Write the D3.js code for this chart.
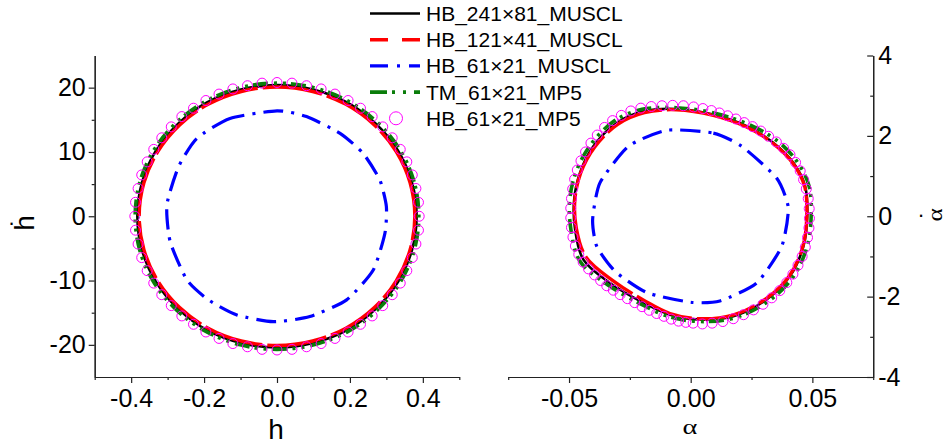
<!DOCTYPE html>
<html>
<head>
<meta charset="utf-8">
<script src="https://cdn.jsdelivr.net/npm/d3@7/dist/d3.min.js"></script>
<style>
  html, body { margin: 0; padding: 0; background: #fff; }
  svg { display: block; }
  .tick text { font-family: "Liberation Sans", Arial, sans-serif; fill: #000; }
</style>
</head>
<body>
<svg id="chart" width="947" height="448"></svg>
<script>
// ---- Left panel: h vs dh/dt ----
const hb241L_h  = [0.383,0.370,0.332,0.271,0.192,0.099,0,-0.099,-0.192,-0.271,-0.332,-0.370,-0.383,-0.370,-0.332,-0.271,-0.192,-0.099,0,0.099,0.192,0.271,0.332,0.370];
const hb241L_hd = [0,5.3,10.2,14.4,17.7,19.7,20.4,19.7,17.7,14.4,10.2,5.3,0,-5.3,-10.2,-14.4,-17.7,-19.7,-20.4,-19.7,-17.7,-14.4,-10.2,-5.3];

const hb121L_h  = [0.378,0.365,0.327,0.267,0.189,0.098,0,-0.098,-0.189,-0.267,-0.327,-0.365,-0.378,-0.365,-0.327,-0.267,-0.189,-0.098,0,0.098,0.189,0.267,0.327,0.365];
const hb121L_hd = [0,5.2,10.05,14.2,17.4,19.4,20.1,19.4,17.4,14.2,10.05,5.2,0,-5.2,-10.05,-14.2,-17.4,-19.4,-20.1,-19.4,-17.4,-14.2,-10.05,-5.2];

const hb61L_h  = [0,-0.129,-0.220,-0.270,-0.302,-0.293,-0.247,-0.188,-0.110,-0.010,0.090,0.191,0.264,0.296,0.300,0.282,0.236,0.173,0.081];
const hb61L_hd = [16.4,15.2,12.1,7.7,1.76,-3.95,-9.9,-13.0,-15.35,-16.4,-15.6,-13.0,-8.35,-2.64,1.5,5.65,9.8,12.9,15.5];

const tmL_h  = [0.389,0.376,0.337,0.275,0.195,0.101,0,-0.101,-0.195,-0.275,-0.337,-0.376,-0.389,-0.376,-0.337,-0.275,-0.195,-0.101,0,0.101,0.195,0.275,0.337,0.376];
const tmL_hd = [0,5.36,10.35,14.6,17.9,20.0,20.7,20.0,17.9,14.6,10.35,5.36,0,-5.36,-10.35,-14.6,-17.9,-20.0,-20.7,-20.0,-17.9,-14.6,-10.35,-5.36];

const mp5L_h = [
  0.390,0.388,0.381,0.371,0.356,0.338,0.316,0.290,0.261,0.229,0.195,0.159,0.121,0.081,0.041,
  0,-0.041,-0.081,-0.121,-0.159,-0.195,-0.229,-0.261,-0.290,-0.316,-0.338,-0.356,-0.371,-0.381,-0.388,
  -0.390,-0.388,-0.381,-0.371,-0.356,-0.338,-0.316,-0.290,-0.261,-0.229,-0.195,-0.159,-0.121,-0.081,-0.041,
  0,0.041,0.081,0.121,0.159,0.195,0.229,0.261,0.290,0.316,0.338,0.356,0.371,0.381,0.388];
const mp5L_hd = [
  0,2.17,4.32,6.43,8.46,10.4,12.2,13.9,15.5,16.8,18.0,19.0,19.8,20.3,20.7,
  20.8,20.7,20.3,19.8,19.0,18.0,16.8,15.5,13.9,12.2,10.4,8.46,6.43,4.32,2.17,
  0,-2.17,-4.32,-6.43,-8.46,-10.4,-12.2,-13.9,-15.5,-16.8,-18.0,-19.0,-19.8,-20.3,-20.7,
  -20.8,-20.7,-20.3,-19.8,-19.0,-18.0,-16.8,-15.5,-13.9,-12.2,-10.4,-8.46,-6.43,-4.32,-2.17];

// ---- Right panel: alpha vs d(alpha)/dt ----
const hb241R_a  = [-0.0058,0.0093,0.0230,0.0339,0.0422,0.0470,0.0479,0.0463,0.0408,0.0312,0.0175,0.0038,-0.0085,-0.0195,-0.0332,-0.0441,-0.0475,-0.0479,-0.0455,-0.0400,-0.0304,-0.0195];
const hb241R_ad = [2.67,2.53,2.24,1.83,1.33,0.75,0.00,-0.75,-1.49,-2.07,-2.49,-2.57,-2.45,-2.15,-1.66,-1.08,-0.33,0.41,1.08,1.74,2.32,2.61];

const hb121R_a  = [-0.0058,0.0093,0.0230,0.0337,0.0420,0.0468,0.0477,0.0461,0.0406,0.0310,0.0173,0.0036,-0.0085,-0.0190,-0.0320,-0.0430,-0.0470,-0.0476,-0.0452,-0.0395,-0.0300,-0.0190];
const hb121R_ad = [2.65,2.51,2.22,1.82,1.32,0.75,0.00,-0.75,-1.48,-2.05,-2.46,-2.55,-2.42,-2.10,-1.60,-1.02,-0.30,0.41,1.08,1.72,2.29,2.58];

const hb61R_a  = [-0.0099,0.0093,0.0210,0.0353,0.0401,0.0374,0.0271,0.0120,0.0000,-0.0180,-0.0311,-0.0386,-0.0403,-0.0373,-0.0256];
const hb61R_ad = [2.14,2.07,1.74,0.95,0.21,-0.75,-1.66,-2.11,-2.14,-1.90,-1.37,-0.75,-0.08,0.83,1.74];

const tmR_a  = [-0.0058,0.0095,0.0240,0.0355,0.0437,0.0486,0.0495,0.0478,0.0420,0.0320,0.0180,0.0038,-0.0088,-0.0200,-0.0340,-0.0455,-0.0492,-0.0497,-0.0470,-0.0410,-0.0312,-0.0200];
const tmR_ad = [2.70,2.57,2.28,1.88,1.36,0.76,0.00,-0.76,-1.52,-2.11,-2.53,-2.62,-2.50,-2.20,-1.71,-1.12,-0.34,0.42,1.12,1.79,2.38,2.66];

const mp5R_a = [
  -0.0074,-0.0030,0.0012,0.0050,0.0085,0.0118,0.0152,0.0186,0.0220,0.0254,0.0288,0.0320,0.0352,0.0382,0.0408,0.0431,0.0450,0.0464,0.0475,0.0483,
  0.0487,0.0488,0.0486,0.0480,0.0471,0.0458,0.0441,0.0420,0.0395,0.0366,0.0333,0.0297,0.0258,0.0217,0.0175,0.0132,0.0088,0.0048,0.0010,-0.0020,
  -0.0050,-0.0080,-0.0110,-0.0140,-0.0170,-0.0200,-0.0230,-0.0260,-0.0290,-0.0318,-0.0345,-0.0370,-0.0395,-0.0420,-0.0442,-0.0460,-0.0474,-0.0484,-0.0490,-0.0493,
  -0.0493,-0.0490,-0.0485,-0.0477,-0.0466,-0.0451,-0.0432,-0.0410,-0.0384,-0.0354,-0.0321,-0.0285,-0.0246,-0.0205,-0.0162,-0.0118];
const mp5R_ad = [
  2.76,2.75,2.72,2.68,2.63,2.57,2.50,2.42,2.33,2.23,2.12,1.99,1.85,1.69,1.53,1.34,1.13,0.91,0.68,0.44,
  0.19,-0.05,-0.29,-0.53,-0.77,-1.00,-1.22,-1.44,-1.65,-1.85,-2.03,-2.19,-2.33,-2.45,-2.55,-2.62,-2.66,-2.68,-2.66,-2.64,
  -2.61,-2.56,-2.49,-2.42,-2.34,-2.25,-2.15,-2.05,-1.95,-1.84,-1.73,-1.60,-1.46,-1.31,-1.14,-0.95,-0.74,-0.52,-0.28,-0.04,
  0.20,0.44,0.68,0.92,1.15,1.38,1.60,1.82,2.02,2.21,2.38,2.51,2.62,2.69,2.73,2.75];

// ---- Axis ticks ----
const xTicksL = [-0.4,-0.2,0.0,0.2,0.4];
const xMinorL = [-0.5,-0.3,-0.1,0.1,0.3,0.5];
const yTicksL = [-20,-10,0,10,20];
const yMinorL = [-15,-5,5,15];
const xTicksR = [-0.05,0.00,0.05];
const xMinorR = [-0.075,-0.025,0.025,0.075];
const yTicksR = [-4,-2,0,2,4];
const yMinorR = [-3,-1,1,3];

// ---- Legend ----
const seriesNames = ["HB_241\u00d781_MUSCL","HB_121\u00d741_MUSCL","HB_61\u00d721_MUSCL","TM_61\u00d721_MP5","HB_61\u00d721_MP5"];

const styles = [
  {color:"#000000", width:2.6, dash:null},
  {color:"#ff0000", width:3.4, dash:"60,5"},
  {color:"#0000ff", width:3.2, dash:"20,8,3,8"},
  {color:"#0a7d0a", width:3.6, dash:"15,5,3,6,3,6"},
  {color:"#ff00ff"}
];
const legendDash = [null, "18,14", "18,9,3,9", "17,5,3,8,3,8"];

const svg = d3.select("#chart");
const font = '"Liberation Sans", Arial, sans-serif';
const serif = '"Liberation Serif", "Times New Roman", serif';

// scales
const xL = d3.scaleLinear().domain([-0.5,0.5]).range([94.7,459.3]);
const yL = d3.scaleLinear().domain([-25,25]).range([377,55.5]);
const xR = d3.scaleLinear().domain([-0.075,0.075]).range([508.2,873.2]);
const yR = d3.scaleLinear().domain([-4,4]).range([377,55.5]);

const zip = (a,b) => a.map((v,i)=>[v,b[i]]);

function axisStyle(g){
  g.select(".domain").attr("stroke","#222").attr("stroke-width",1.2);
  g.selectAll(".tick line").attr("stroke","#222").attr("stroke-width",1.2);
  g.selectAll(".tick text").style("font-size","25px").style("font-family",font);
}

// left panel axes
svg.append("g").attr("transform",`translate(0,${yL(-25)})`)
  .call(d3.axisBottom(xL).tickValues(xMinorL).tickSize(3).tickSizeOuter(0).tickFormat(""))
  .call(axisStyle);
svg.append("g").attr("transform",`translate(0,${yL(-25)})`)
  .call(d3.axisBottom(xL).tickValues(xTicksL).tickSize(6).tickSizeOuter(0).tickPadding(6).tickFormat(d=>d.toFixed(1)))
  .call(axisStyle);
svg.append("g").attr("transform",`translate(${xL(-0.5)},0)`)
  .call(d3.axisLeft(yL).tickValues(yMinorL).tickSize(3).tickSizeOuter(0).tickFormat(""))
  .call(axisStyle);
svg.append("g").attr("transform",`translate(${xL(-0.5)},0)`)
  .call(d3.axisLeft(yL).tickValues(yTicksL).tickSize(6).tickSizeOuter(0).tickPadding(3).tickFormat(d=>String(d)))
  .call(axisStyle);

// right panel axes
svg.append("g").attr("transform",`translate(0,${yR(-4)})`)
  .call(d3.axisBottom(xR).tickValues(xMinorR).tickSize(3).tickSizeOuter(0).tickFormat(""))
  .call(axisStyle);
svg.append("g").attr("transform",`translate(0,${yR(-4)})`)
  .call(d3.axisBottom(xR).tickValues(xTicksR).tickSize(6).tickSizeOuter(0).tickPadding(6).tickFormat(d=>d.toFixed(2)))
  .call(axisStyle);
svg.append("g").attr("transform",`translate(${xR(0.075)},0)`)
  .call(d3.axisRight(yR).tickValues(yMinorR).tickSizeInner(-3).tickSizeOuter(0).tickFormat(""))
  .call(axisStyle);
svg.append("g").attr("transform",`translate(${xR(0.075)},0)`)
  .call(d3.axisRight(yR).tickValues(yTicksR).tickSizeInner(-6).tickSizeOuter(0).tickPadding(5).tickFormat(d=>String(d)))
  .call(axisStyle);

// axis titles
svg.append("text").attr("x",276).attr("y",439).attr("text-anchor","middle")
  .style("font-family",font).style("font-size","28px").text("h");
svg.append("text").attr("transform","translate(690,434) scale(1.35,1)").attr("text-anchor","middle")
  .style("font-family",serif).style("font-size","21px").text("\u03b1");

// rotated titles: letter turned on its side, overdot set beside it
function rotatedTitle(x, y, letter, family, size, sx, dotX){
  svg.append("text").attr("text-anchor","middle")
    .attr("transform",`translate(${x},${y}) rotate(-90) scale(${sx},1)`)
    .style("font-family",family).style("font-size",size+"px").text(letter);
  svg.append("text").attr("text-anchor","middle").attr("x",dotX).attr("y",y+1.5)
    .style("font-family",font).style("font-size","22px").text(".");
}
rotatedTitle(34, 223, "h", font, 28, 1, 11.5);
rotatedTitle(942, 215, "\u03b1", serif, 21, 1.2, 921);

// curves
function drawCurve(x, y, pts, st, curve){
  const line = d3.line().x(d=>x(d[0])).y(d=>y(d[1])).curve(curve);
  const p = svg.append("path").datum(pts).attr("d",line)
    .attr("fill","none").attr("stroke",st.color).attr("stroke-width",st.width)
    .attr("stroke-linejoin","round");
  if (st.dash) p.attr("stroke-dasharray",st.dash);
}
function drawMarkers(x, y, pts){
  svg.append("g").selectAll("circle").data(pts).join("circle")
    .attr("cx",d=>x(d[0])).attr("cy",d=>y(d[1])).attr("r",5)
    .attr("fill","none").attr("stroke","#ff00ff").attr("stroke-width",1);
}

const smooth = d3.curveCatmullRomClosed.alpha(0.5);
const coarse = d3.curveCardinalClosed.tension(0.4);

drawCurve(xL,yL,zip(hb241L_h,hb241L_hd),styles[0],smooth);
drawCurve(xL,yL,zip(hb121L_h,hb121L_hd),styles[1],smooth);
drawCurve(xL,yL,zip(hb61L_h,hb61L_hd),styles[2],coarse);
drawCurve(xL,yL,zip(tmL_h,tmL_hd),styles[3],smooth);
drawMarkers(xL,yL,zip(mp5L_h,mp5L_hd));

drawCurve(xR,yR,zip(hb241R_a,hb241R_ad),styles[0],smooth);
drawCurve(xR,yR,zip(hb121R_a,hb121R_ad),styles[1],smooth);
drawCurve(xR,yR,zip(hb61R_a,hb61R_ad),styles[2],coarse);
drawCurve(xR,yR,zip(tmR_a,tmR_ad),styles[3],smooth);
drawMarkers(xR,yR,zip(mp5R_a,mp5R_ad));

// legend
const lg = svg.append("g");
seriesNames.forEach((name,i)=>{
  const cy = 13.5 + i*26.2;
  if (i < 4) {
    const l = lg.append("line").attr("x1",370).attr("x2",420).attr("y1",cy).attr("y2",cy)
      .attr("stroke",styles[i].color).attr("stroke-width",styles[i].width);
    if (legendDash[i]) l.attr("stroke-dasharray",legendDash[i]);
  } else {
    lg.append("circle").attr("cx",396).attr("cy",cy).attr("r",6.5)
      .attr("fill","none").attr("stroke","#ff00ff").attr("stroke-width",1);
  }
  lg.append("text").attr("x",426).attr("y",cy+7.5)
    .style("font-family",font).style("font-size","21px").text(name);
});
</script>
</body>
</html>
